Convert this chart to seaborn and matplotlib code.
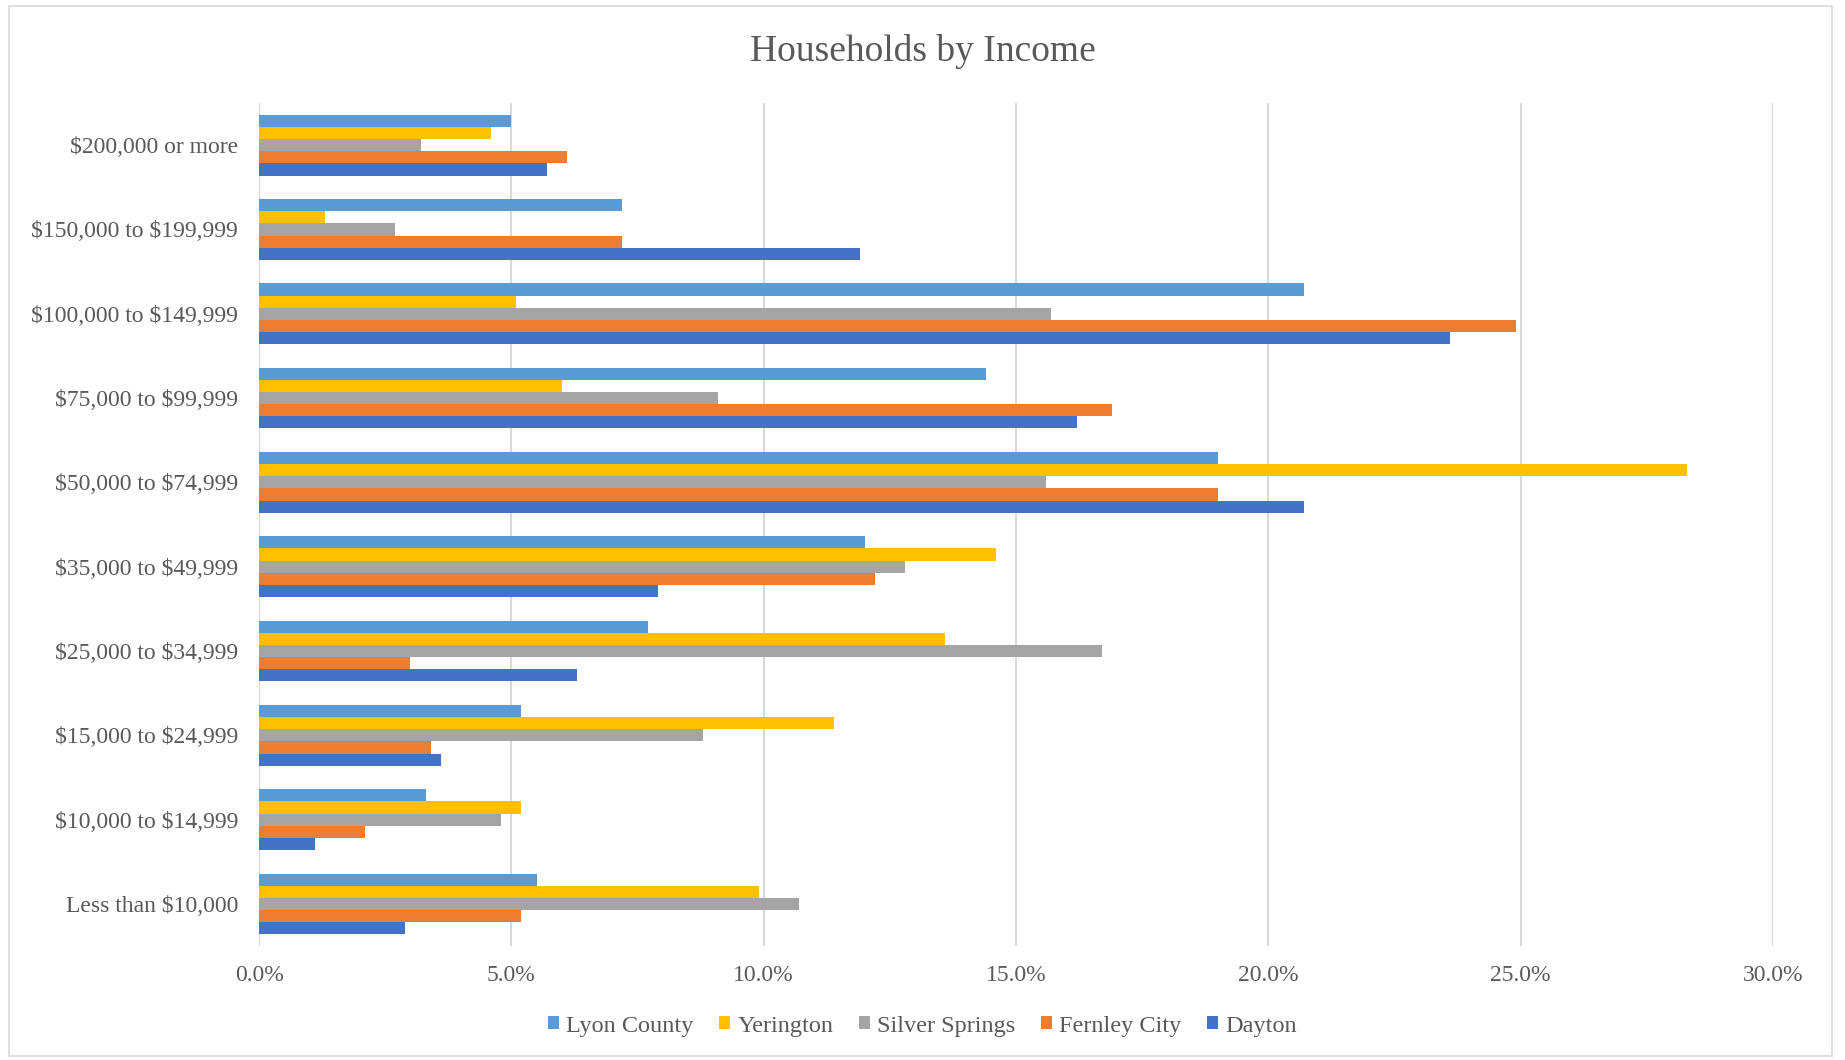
import matplotlib
matplotlib.use("Agg")
import matplotlib.pyplot as plt
import seaborn as sns
import pandas as pd
from matplotlib.patches import Patch, Rectangle
from matplotlib.ticker import FuncFormatter, MultipleLocator

categories = ["$200,000 or more", "$150,000 to $199,999", "$100,000 to $149,999",
              "$75,000 to $99,999", "$50,000 to $74,999", "$35,000 to $49,999",
              "$25,000 to $34,999", "$15,000 to $24,999", "$10,000 to $14,999",
              "Less than $10,000"]
series = ["Lyon County", "Yerington", "Silver Springs", "Fernley City", "Dayton"]
lyon_county = [5.0, 7.2, 20.7, 14.4, 19.0, 12.0, 7.7, 5.2, 3.3, 5.5]
yerington = [4.6, 1.3, 5.1, 6.0, 28.3, 14.6, 13.6, 11.4, 5.2, 9.9]
silver_springs = [3.2, 2.7, 15.7, 9.1, 15.6, 12.8, 16.7, 8.8, 4.8, 10.7]
fernley_city = [6.1, 7.2, 24.9, 16.9, 19.0, 12.2, 3.0, 3.4, 2.1, 5.2]
dayton = [5.7, 11.9, 23.6, 16.2, 20.7, 7.9, 6.3, 3.6, 1.1, 2.9]
colors = ["#5B9BD5", "#FFC000", "#A5A5A5", "#ED7D31", "#4472C4"]

rows = []
for name, vals in zip(series, [lyon_county, yerington, silver_springs, fernley_city, dayton]):
    for c, v in zip(categories, vals):
        rows.append({"Income": c, "Area": name, "Pct": v})
df = pd.DataFrame(rows)

sns.set_theme(style="white")
plt.rcParams["font.family"] = ["Liberation Serif", "DejaVu Serif"]
plt.rcParams["text.parse_math"] = False
text_color = "#595959"

fig = plt.figure(figsize=(18.45, 10.6), dpi=100)
ax = fig.add_axes([0.1404, 0.1075, 0.8206, 0.7953])

sns.barplot(data=df, y="Income", x="Pct", hue="Area", order=categories,
            hue_order=series, palette=colors, saturation=1, width=0.72, linewidth=0,
            orient="h", ax=ax, legend=False, errorbar=None)

ax.set_xlim(0, 30)
ax.set_ylim(9.5, -0.5)
ax.xaxis.set_major_locator(MultipleLocator(5))
ax.xaxis.set_major_formatter(FuncFormatter(lambda v, p: f"{v:.1f}%"))
ax.grid(axis="x", color="#D9D9D9", linewidth=1.5)
ax.set_axisbelow(True)
for s in ax.spines.values():
    s.set_visible(False)
ax.set_xlabel("")
ax.set_ylabel("")
ax.tick_params(axis="both", length=0, labelsize=17, labelcolor=text_color)
ax.tick_params(axis="y", pad=15)
ax.tick_params(axis="x", pad=14)

fig.text(0.5, 0.951, "Households by Income", ha="center", va="center",
         fontsize=27, color=text_color)

handles = [Patch(facecolor=c, edgecolor="none", label=s) for s, c in zip(series, colors)]
fig.legend(handles=handles, loc="center", bbox_to_anchor=(0.5, 0.032), ncol=5,
           frameon=False, fontsize=17.5, labelcolor=text_color,
           handlelength=0.45, handleheight=0.45, handletextpad=0.3, columnspacing=1.05)

fig.patches.append(Rectangle((0.005, 0.004), 0.988, 0.99, transform=fig.transFigure,
                             fill=False, edgecolor="#D9D9D9", linewidth=1.2))

fig.savefig("out.png", dpi=100, facecolor="white")
